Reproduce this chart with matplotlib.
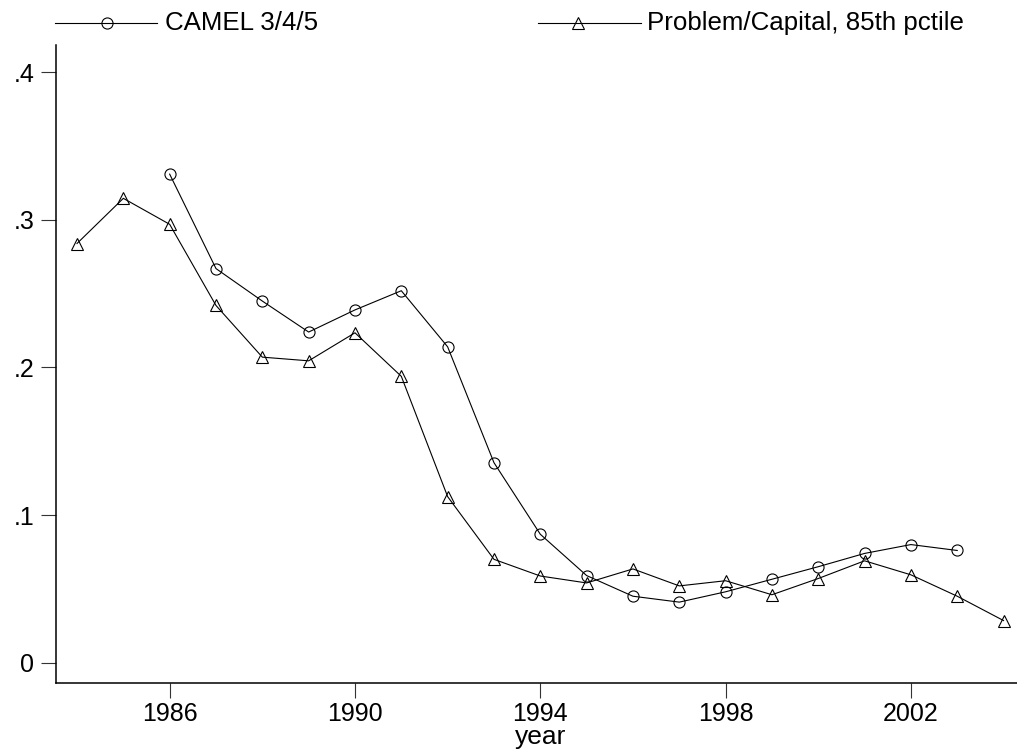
import matplotlib
matplotlib.use("Agg")
import matplotlib.pyplot as plt
from matplotlib.lines import Line2D

plt.rcParams['font.family'] = ['Liberation Sans', 'DejaVu Sans']

years_camel = [1986, 1987, 1988, 1989, 1990, 1991, 1992, 1993, 1994, 1995,
               1996, 1997, 1998, 1999, 2000, 2001, 2002, 2003]
camel = [0.331, 0.267, 0.245, 0.224, 0.239, 0.252, 0.214, 0.1355, 0.087, 0.059,
         0.045, 0.041, 0.048, 0.0565, 0.065, 0.074, 0.080, 0.076]

years_prob = [1984, 1985, 1986, 1987, 1988, 1989, 1990, 1991, 1992, 1993, 1994,
              1995, 1996, 1997, 1998, 1999, 2000, 2001, 2002, 2003, 2004]
problem = [0.284, 0.3146, 0.297, 0.242, 0.207, 0.2045, 0.2235, 0.194, 0.1125, 0.070,
           0.0587, 0.054, 0.0635, 0.052, 0.0555, 0.046, 0.057, 0.069, 0.0595, 0.045, 0.0285]

xticks = [1986, 1990, 1994, 1998, 2002]
yticks = [0, 0.1, 0.2, 0.3, 0.4]
ytick_labels = ['0', '.1', '.2', '.3', '.4']
labels = ['CAMEL 3/4/5', 'Problem/Capital, 85th pctile']

W, H = 1017, 755
fig = plt.figure(figsize=(W / 100, H / 100), dpi=100)
ax = fig.add_axes([55.7 / W, 1 - 683.3 / H, 1 - 55.7 / W, (683.3 - 45) / H])

lw = 0.8
ax.plot(years_camel, camel, color='black', lw=lw, marker='o', ms=8,
        mfc='none', mec='black', mew=0.8, clip_on=False)
ax.plot(years_prob, problem, color='black', lw=lw, marker='^', ms=8.5,
        mfc='none', mec='black', mew=0.8, clip_on=False)

ax.set_xlim(1983.54, 2004.29)
ax.set_ylim(-0.014, 0.4185)
ax.set_xticks(xticks)
ax.set_xticklabels([str(x) for x in xticks])
ax.set_yticks(yticks)
ax.set_yticklabels(ytick_labels)

for s in ['top', 'right']:
    ax.spines[s].set_visible(False)
for s in ['left', 'bottom']:
    ax.spines[s].set_linewidth(1.1)
    ax.spines[s].set_color('black')

ax.tick_params(axis='both', length=10.5, width=0.8, color='#333333',
               labelsize=18, direction='out')
ax.tick_params(axis='y', pad=5)
ax.tick_params(axis='x', pad=3)
ax.set_xlabel('year', fontsize=19, labelpad=0)
ax.xaxis.set_label_coords((541 - 55.7) / (W - 55.7), -0.066)
ax.xaxis.label.set_verticalalignment('top')

# legend keys (drawn in figure coordinates)
ly = 1 - 23 / H
fs_leg = 18.6
fig.add_artist(Line2D([55 / W, 157 / W], [ly, ly], color='black', lw=lw))
fig.add_artist(Line2D([107 / W], [ly], marker='o', ms=8, mfc='none',
                      mec='black', mew=0.8, lw=0))
fig.text(165 / W, ly, labels[0], fontsize=fs_leg, va='center', ha='left')
fig.add_artist(Line2D([538 / W, 641 / W], [ly, ly], color='black', lw=lw))
fig.add_artist(Line2D([578 / W], [ly], marker='^', ms=8.5, mfc='none',
                      mec='black', mew=0.8, lw=0))
fig.text(647 / W, ly, labels[1], fontsize=fs_leg, va='center', ha='left')

fig.savefig('out.png', dpi=100, facecolor='white')
